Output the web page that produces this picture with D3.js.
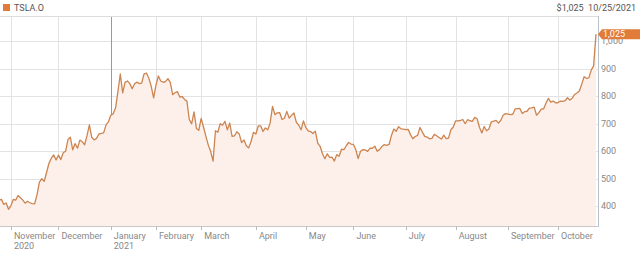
<!DOCTYPE html>
<html>
<head>
<meta charset="utf-8">
<script src="https://cdn.jsdelivr.net/npm/d3@7"></script>
<style>
    body {margin: 0; background: #fff;}
    text {font-family: Roboto, "Noto Sans", sans-serif;}
</style>
</head>
<body>
<svg id="svg_main" width="640" height="254"></svg>
<script>
const ticker = 'TSLA.O';
const lastLabel = '$1,025  10/25/2021';
const lastValue = '1,025';
const monthNames = ['', 'November', 'December', 'January', 'February', 'March', 'April', 'May', 'June', 'July', 'August', 'September', 'October'];
const yearLabels = ['', '2020', '', '2021', '', '', '', '', '', '', '', '', ''];
const yTicks = [400, 500, 600, 700, 800, 900, 1000];

// daily closes, one list per month (Oct 2020 .. Oct 2021)
const closesByMonth = [
    [420.3, 424.7, 406.0, 410.8, 388.0],
    [400.5, 423.9, 421.0, 438.1, 430.0, 421.3, 410.4, 417.1, 411.8, 408.5, 408.1, 441.6, 486.6, 499.3, 489.6, 521.9, 555.4, 574.0, 585.8, 567.6],
    [584.8, 568.8, 593.4, 599.0, 641.8, 649.9, 604.5, 627.1, 610.0, 639.8, 633.3, 622.8, 655.9, 695.0, 649.9, 640.3, 646.0, 661.8, 663.7, 666.0, 694.8, 705.7],
    [729.8, 735.1, 756.0, 816.0, 880.0, 811.2, 849.4, 854.4, 845.0, 826.2, 844.6, 850.5, 845.0, 846.6, 880.8, 883.1, 864.2, 835.4, 793.5],
    [839.8, 872.8, 854.7, 850.0, 852.2, 863.4, 849.5, 804.8, 811.7, 816.1, 796.2, 798.2, 787.4, 781.3, 714.5, 698.8, 742.0, 682.2, 675.5],
    [718.4, 686.4, 653.2, 621.4, 598.0, 563.0, 673.6, 668.1, 699.6, 693.7, 707.9, 676.9, 701.8, 653.2, 654.9, 670.0, 662.2, 630.3, 640.4, 618.7, 611.3, 635.6, 667.9],
    [661.8, 691.1, 691.6, 671.0, 683.8, 677.0, 702.0, 762.3, 732.2, 738.9, 739.8, 714.6, 719.0, 744.1, 719.7, 729.4, 738.2, 704.7, 694.4, 677.0, 709.4],
    [684.9, 673.6, 670.9, 663.5, 672.4, 629.0, 617.2, 589.9, 571.7, 589.7, 576.8, 577.9, 563.5, 586.8, 580.9, 606.4, 604.7, 619.1, 630.9, 625.2],
    [623.9, 605.1, 572.8, 599.1, 605.1, 603.6, 598.8, 610.1, 609.9, 617.7, 599.4, 604.9, 616.6, 623.3, 620.8, 623.7, 656.6, 679.8, 671.9, 688.7, 680.8, 679.7],
    [677.9, 678.9, 659.6, 644.7, 652.8, 657.0, 685.7, 668.5, 653.4, 650.6, 644.2, 646.2, 660.5, 655.3, 649.3, 643.4, 657.6, 644.8, 647.0, 677.4, 687.2],
    [709.7, 709.7, 710.9, 714.6, 699.1, 713.8, 710.0, 707.8, 722.3, 717.2, 686.2, 665.7, 689.0, 673.5, 680.3, 706.3, 708.5, 711.2, 701.2, 711.9, 730.9, 735.7],
    [734.1, 732.4, 733.6, 752.9, 753.9, 754.9, 736.3, 743.0, 744.5, 755.8, 757.0, 759.5, 730.2, 739.4, 751.9, 753.6, 774.4, 791.4, 777.6, 781.3, 775.5],
    [775.2, 781.5, 780.6, 782.8, 793.6, 785.5, 791.9, 805.7, 811.1, 818.3, 843.0, 870.1, 864.3, 865.8, 894.0, 909.7, 1024.9]
];

const closes = closesByMonth.flat();
const monthStart = [];
closesByMonth.reduce((acc, m) => {monthStart.push(acc); return acc + m.length;}, 0);

const width = 640, height = 254;
const plotTop = 16, plotBottom = 226, plotRight = 598;
const svg = d3.select('#svg_main');

const x = d3.scaleLinear().domain([0, closes.length - 1]).range([-1, 596]);
const y = d3.scaleLinear().domain([327.3, 1090.9]).range([plotBottom, plotTop]);

// header
svg.append('rect').attr('x', 3).attr('y', 4).attr('width', 7).attr('height', 7).attr('fill', '#e07b39');
svg.append('text').attr('x', 14).attr('y', 11).attr('font-size', 9).attr('fill', '#555').text(ticker);
svg.append('text').attr('x', 636).attr('y', 11).attr('font-size', 9).attr('fill', '#555')
    .attr('text-anchor', 'end').attr('xml:space', 'preserve').text(lastLabel);

// grid
const grid = svg.append('g');
grid.selectAll('line.h')
    .data(yTicks)
    .join('line')
    .attr('class', 'h')
    .attr('x1', 0).attr('x2', plotRight)
    .attr('y1', d => Math.round(y(d)) + 0.5).attr('y2', d => Math.round(y(d)) + 0.5)
    .attr('stroke', '#e3e3e3');
const months = monthStart.slice(1).map((s, i) => ({i: s, name: monthNames[i + 1], year: yearLabels[i + 1]}));
grid.selectAll('line.v')
    .data(months)
    .join('line')
    .attr('class', 'v')
    .attr('x1', d => Math.round(x(d.i)) + 0.5).attr('x2', d => Math.round(x(d.i)) + 0.5)
    .attr('y1', plotTop).attr('y2', plotBottom + 4)
    .attr('stroke', d => d.year === '2021' ? '#9a9a9a' : '#e3e3e3');
svg.append('line').attr('x1', 0).attr('x2', plotRight).attr('y1', plotTop + 0.5).attr('y2', plotTop + 0.5).attr('stroke', '#ddd');

// area + line
svg.append('path')
    .datum(closes)
    .attr('d', d3.area().x((d, i) => x(i)).y0(plotBottom).y1(d => y(d)))
    .attr('fill', '#fdf0ea');
svg.append('path')
    .datum(closes)
    .attr('d', d3.line().x((d, i) => x(i)).y(d => y(d)))
    .attr('fill', 'none')
    .attr('stroke', '#cc8450')
    .attr('stroke-width', 1.3)
    .attr('stroke-linejoin', 'round');

// axes
svg.append('line').attr('x1', 0).attr('x2', plotRight).attr('y1', plotBottom + 0.5).attr('y2', plotBottom + 0.5).attr('stroke', '#c8c8c8');
svg.append('line').attr('x1', plotRight + 0.5).attr('x2', plotRight + 0.5).attr('y1', plotTop).attr('y2', plotBottom + 1).attr('stroke', '#b9c3cb');
svg.selectAll('line.tick')
    .data(months)
    .join('line')
    .attr('class', 'tick')
    .attr('x1', d => Math.round(x(d.i)) + 0.5).attr('x2', d => Math.round(x(d.i)) + 0.5)
    .attr('y1', plotBottom).attr('y2', plotBottom + 4)
    .attr('stroke', '#bbb');

const xl = svg.append('g').attr('font-size', 9).attr('fill', '#888');
xl.selectAll('text.m')
    .data(months)
    .join('text')
    .attr('class', 'm')
    .attr('x', d => x(d.i) + 3).attr('y', 238.5)
    .text(d => d.name);
xl.selectAll('text.yr')
    .data(months.filter(d => d.year))
    .join('text')
    .attr('class', 'yr')
    .attr('x', d => x(d.i) + 3).attr('y', 249)
    .text(d => d.year);

svg.append('g').attr('font-size', 9).attr('fill', '#888')
    .selectAll('text')
    .data(yTicks)
    .join('text')
    .attr('x', 601).attr('y', d => y(d) + 3.2)
    .text(d => d3.format(',')(d));

// last value badge
const yl = y(closes[closes.length - 1]);
svg.append('path')
    .attr('d', `M${plotRight},${yl} L${plotRight + 4},${yl - 5} H640 V${yl + 5} H${plotRight + 4} Z`)
    .attr('fill', '#e07b39');
svg.append('text').attr('x', 603).attr('y', yl + 3.3).attr('font-size', 9).attr('fill', '#fff').text(lastValue);
</script>
</body>
</html>
